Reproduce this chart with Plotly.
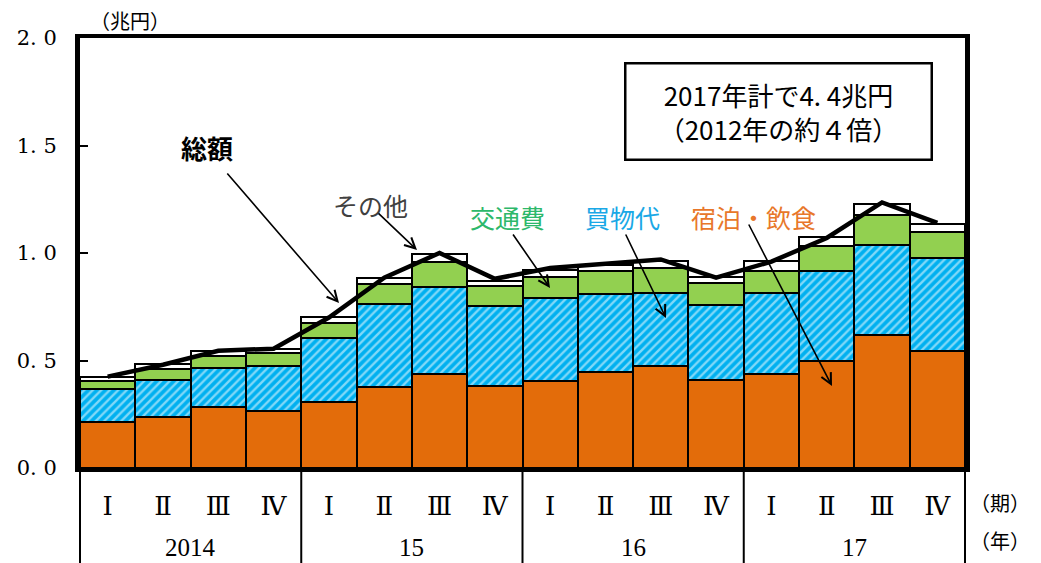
import plotly.graph_objects as go

# ---------------- data ----------------
quarters = ["Ⅰ", "Ⅱ", "Ⅲ", "Ⅳ"] * 4
years = ["2014", "15", "16", "17"]
x_idx = list(range(16))

lodging_food = [0.215, 0.239, 0.282, 0.267, 0.306, 0.375, 0.436, 0.383,
                0.405, 0.448, 0.476, 0.408, 0.437, 0.498, 0.619, 0.546]
shopping = [0.151, 0.170, 0.185, 0.209, 0.297, 0.388, 0.404, 0.370,
            0.384, 0.360, 0.337, 0.349, 0.376, 0.418, 0.418, 0.429]
transport = [0.039, 0.050, 0.055, 0.057, 0.070, 0.091, 0.120, 0.094,
             0.101, 0.108, 0.116, 0.102, 0.105, 0.118, 0.140, 0.124]
others = [0.018, 0.023, 0.024, 0.022, 0.028, 0.028, 0.034, 0.024,
          0.031, 0.027, 0.034, 0.028, 0.043, 0.039, 0.051, 0.034]
total = [0.425, 0.480, 0.545, 0.555, 0.700, 0.885, 1.000, 0.880,
         0.930, 0.950, 0.970, 0.885, 0.960, 1.070, 1.235, 1.140]

y_tickvals = [0.0, 0.5, 1.0, 1.5, 2.0]
y_ticktext = ["0. 0", "0. 5", "1. 0", "1. 5", "2. 0"]

ORANGE = "#E36C0A"
BLUE = "#00B0F0"
GREEN = "#92D050"

W, H = 1041, 563
ML, MR, MT, MB = 80, 76, 38, 95
PW, PH = W - ML - MR, H - MT - MB


def px2paper(px, py):
    return (px - ML) / PW, (H - MB - py) / PH


fig = go.Figure()
fig.add_trace(go.Bar(x=x_idx, y=lodging_food, name="宿泊・飲食",
                     marker=dict(color=ORANGE, line=dict(color="black", width=2.5))))
fig.add_trace(go.Bar(x=x_idx, y=shopping, name="買物代",
                     marker=dict(color=BLUE, line=dict(color="black", width=2.5),
                                 pattern=dict(shape="/", fgcolor="white", bgcolor=BLUE,
                                              size=6, solidity=0.4))))
fig.add_trace(go.Bar(x=x_idx, y=transport, name="交通費",
                     marker=dict(color=GREEN, line=dict(color="black", width=2.5))))
fig.add_trace(go.Bar(x=x_idx, y=others, name="その他",
                     marker=dict(color="white", line=dict(color="black", width=2))))
fig.add_trace(go.Scatter(x=x_idx, y=total, name="総額", mode="lines",
                         line=dict(color="black", width=4.5)))

fig.update_layout(
    width=W, height=H,
    margin=dict(l=ML, r=MR, t=MT, b=MB, autoexpand=False),
    paper_bgcolor="white", plot_bgcolor="white",
    barmode="stack", bargap=0, showlegend=False,
    font=dict(family="Noto Sans CJK JP", color="black"),
)
fig.update_xaxes(range=[-0.5, 15.5], tickmode="array", tickvals=x_idx, ticktext=quarters,
                 ticks="", showgrid=False, zeroline=False,
                 showline=True, linecolor="black", linewidth=4, mirror=True,
                 tickfont=dict(family="DejaVu Serif, Noto Sans CJK JP", size=26, color="black"),
                 ticklabelstandoff=12)
fig.update_yaxes(range=[0, 2.0], tickmode="array", tickvals=y_tickvals, ticktext=y_ticktext,
                 ticks="inside", ticklen=8, tickwidth=1.5, tickcolor="black",
                 showgrid=False, zeroline=False,
                 showline=True, linecolor="black", linewidth=5, mirror=True,
                 tickfont=dict(family="DejaVu Serif", size=21, color="black"),
                 ticklabelstandoff=14)

# year separators and labels
for k in range(5):
    xp = (k * 4) / 16
    fig.add_shape(type="line", xref="paper", yref="paper", x0=xp, x1=xp,
                  y0=0, y1=-MB / PH - 0.02, line=dict(color="black", width=2))
for k, yl in enumerate(years):
    fig.add_annotation(x=k * 4 + 1.5, y=px2paper(0, 547)[1], xref="x", yref="paper",
                       text=yl, showarrow=False, xanchor="center", yanchor="middle",
                       font=dict(family="Liberation Serif", size=25, color="black"))

# unit labels
for txt, (px, py) in [("（期）", (1000, 503)), ("（年）", (1000, 540)), ("（兆円）", (130, 20))]:
    xp, yp = px2paper(px, py)
    fig.add_annotation(x=xp, y=yp, xref="paper", yref="paper", text=txt, showarrow=False,
                       xanchor="center", yanchor="middle",
                       font=dict(family="Noto Sans CJK JP", size=20, color="black"))

# box
bx, by = px2paper(778.5, 111)
fig.add_annotation(x=bx, y=by, xref="paper", yref="paper",
                   text="2017年計で4. 4兆円<br>（2012年の約４倍）", showarrow=False,
                   xanchor="center", yanchor="middle",
                   font=dict(family="Noto Sans CJK JP", size=26, color="black"),
                   bordercolor="black", borderwidth=2.5, borderpad=4,
                   width=296, height=86, bgcolor="white")

# labels
labels = [
    ("<b>総額</b>", (207, 147), "black", 26),
    ("その他", (370, 205), "#404040", 25),
    ("交通費", (507, 217), "#2DB86A", 25),
    ("買物代", (622, 217), "#1AA8E6", 25),
    ("宿泊・飲食", (753, 217), "#E8772A", 25),
]
for txt, (px, py), col, sz in labels:
    xp, yp = px2paper(px, py)
    fig.add_annotation(x=xp, y=yp, xref="paper", yref="paper", text=txt, showarrow=False,
                       xanchor="center", yanchor="middle",
                       font=dict(family="Noto Sans CJK JP", size=sz, color=col))

# arrows: (tail, head)
arrows = [((226, 172), (339, 303)),
          ((377, 212), (417, 250)),
          ((512, 233), (550, 288)),
          ((625, 233), (666, 318)),
          ((748, 223), (832, 386))]
for (tx, ty), (hx, hy) in arrows:
    xp, yp = px2paper(hx, hy)
    fig.add_annotation(x=xp, y=yp, xref="paper", yref="paper", text="",
                       showarrow=True, ax=tx - hx, ay=ty - hy,
                       arrowhead=5, arrowsize=1.3, arrowwidth=1.6, arrowcolor="black")

fig.write_html("out.html", config={"displayModeBar": False},
               post_script="document.body.style.margin='0';document.body.style.padding='0';")
